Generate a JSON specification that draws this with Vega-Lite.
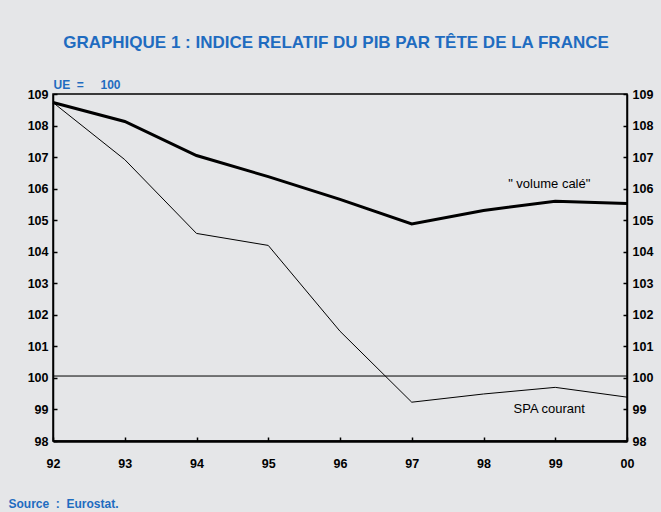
{
  "$schema": "https://vega.github.io/schema/vega-lite/v6.json",
  "width": 574,
  "height": 347,
  "autosize": "none",
  "padding": {"left": 53, "top": 94, "right": 34, "bottom": 71},
  "background": "#e5e6e8",
  "config": {
    "view": {"stroke": "#000000", "strokeWidth": 1.5, "fill": "#e5e6e8"},
    "font": "Liberation Sans",
    "axis": {"grid": false, "labelFont": "Liberation Sans", "labelFontWeight": "bold", "labelFontSize": 12.5, "labelColor": "#000000", "domainColor": "#000000", "tickColor": "#000000", "labelOverlap": false}
  },
  "title": {
    "text": "GRAPHIQUE 1 : INDICE RELATIF DU PIB PAR TÊTE DE LA FRANCE",
    "font": "Liberation Sans",
    "fontSize": 17,
    "fontWeight": "bold",
    "color": "#1f6cc0",
    "anchor": "middle",
    "dx": -4,
    "offset": 26
  },
  "datasets": {
    "series": [
      {"annee": 1992, "serie": "volume calé", "valeur": 108.73},
      {"annee": 1993, "serie": "volume calé", "valeur": 108.13},
      {"annee": 1994, "serie": "volume calé", "valeur": 107.05},
      {"annee": 1995, "serie": "volume calé", "valeur": 106.38},
      {"annee": 1996, "serie": "volume calé", "valeur": 105.66},
      {"annee": 1997, "serie": "volume calé", "valeur": 104.88},
      {"annee": 1998, "serie": "volume calé", "valeur": 105.31},
      {"annee": 1999, "serie": "volume calé", "valeur": 105.6},
      {"annee": 2000, "serie": "volume calé", "valeur": 105.53},
      {"annee": 1992, "serie": "SPA courant", "valeur": 108.73},
      {"annee": 1993, "serie": "SPA courant", "valeur": 106.92},
      {"annee": 1994, "serie": "SPA courant", "valeur": 104.58},
      {"annee": 1995, "serie": "SPA courant", "valeur": 104.2},
      {"annee": 1996, "serie": "SPA courant", "valeur": 101.48},
      {"annee": 1997, "serie": "SPA courant", "valeur": 99.23},
      {"annee": 1998, "serie": "SPA courant", "valeur": 99.49},
      {"annee": 1999, "serie": "SPA courant", "valeur": 99.7},
      {"annee": 2000, "serie": "SPA courant", "valeur": 99.39}
    ],
    "reference": [{"valeur": 100.06}]
  },
  "resolve": {"scale": {"y": "independent"}, "axis": {"y": "independent"}},
  "layer": [
    {
      "resolve": {"scale": {"y": "shared"}},
      "encoding": {
        "y": {
          "field": "valeur", "type": "quantitative",
          "scale": {"domain": [98, 109], "nice": false, "zero": false},
          "axis": {
            "values": [98, 99, 100, 101, 102, 103, 104, 105, 106, 107, 108, 109],
            "domainWidth": 1.5,
            "tickSize": -4,
            "tickWidth": 1.5,
            "labelPadding": 9,
            "labelOverlap": false,
            "title": "UE\u00a0\u00a0=\u00a0\u00a0\u00a0\u00a0\u00a0100",
            "titleAngle": 0,
            "titleColor": "#1f6cc0",
            "titleFontSize": 12,
            "titleFontWeight": "bold",
            "titleAlign": "left",
            "titleBaseline": "alphabetic",
            "titleAnchor": "end",
            "titleX": 0,
            "titleY": -6
          }
        }
      },
      "layer": [
        {
          "data": {"name": "series"},
          "mark": {"type": "line", "color": "#000000", "strokeJoin": "miter"},
          "encoding": {
            "x": {
              "field": "annee", "type": "quantitative",
              "scale": {"domain": [1992, 2000], "nice": false, "zero": false},
              "axis": {
                "values": [1992, 1993, 1994, 1995, 1996, 1997, 1998, 1999, 2000],
                "format": "d",
                "labelExpr": "substring(datum.label, 2)",
                "domainWidth": 2.5,
                "tickSize": -4,
                "tickWidth": 1.5,
                "labelPadding": 20,
                "labelFlush": false,
                "title": "Source\u00a0\u00a0:\u00a0\u00a0Eurostat.",
                "titleColor": "#1f6cc0",
                "titleFontSize": 12,
                "titleFontWeight": "bold",
                "titleFont": "Liberation Sans",
                "titleAnchor": "start",
                "titleAlign": "left",
                "titleBaseline": "alphabetic",
                "titleX": -45,
                "titleY": 66
              }
            },
            "detail": {"field": "serie"},
            "strokeWidth": {"field": "serie", "type": "nominal", "scale": {"domain": ["volume calé", "SPA courant"], "range": [3, 1]}, "legend": null}
          }
        },
        {
          "data": {"name": "reference"},
          "mark": {"type": "rule", "color": "#000000", "strokeWidth": 1},
          "encoding": {}
        },
        {
          "data": {"name": "series"},
          "transform": [{"filter": "datum.annee == 1999 && datum.serie == 'volume calé'"}],
          "mark": {"type": "text", "fontSize": 13, "dx": -6, "dy": -17, "color": "#000000", "font": "Liberation Sans"},
          "encoding": {
            "x": {"field": "annee", "type": "quantitative"},
            "text": {"value": "\" volume calé\""}
          }
        },
        {
          "data": {"name": "series"},
          "transform": [{"filter": "datum.annee == 1999 && datum.serie == 'SPA courant'"}],
          "mark": {"type": "text", "fontSize": 13, "dx": -6, "dy": 22, "color": "#000000", "font": "Liberation Sans"},
          "encoding": {
            "x": {"field": "annee", "type": "quantitative"},
            "text": {"value": "SPA courant"}
          }
        }
      ]
    },
    {
      "data": {"name": "series"},
      "mark": {"type": "line", "opacity": 0},
      "encoding": {
        "x": {"field": "annee", "type": "quantitative"},
        "y": {
          "field": "valeur", "type": "quantitative",
          "scale": {"domain": [98, 109], "nice": false, "zero": false},
          "axis": {
            "orient": "right",
            "values": [98, 99, 100, 101, 102, 103, 104, 105, 106, 107, 108, 109],
            "domainWidth": 1.5,
            "tickSize": -4,
            "tickWidth": 1.5,
            "labelPadding": 9,
            "title": null
          }
        },
        "detail": {"field": "serie"}
      }
    }
  ]
}
